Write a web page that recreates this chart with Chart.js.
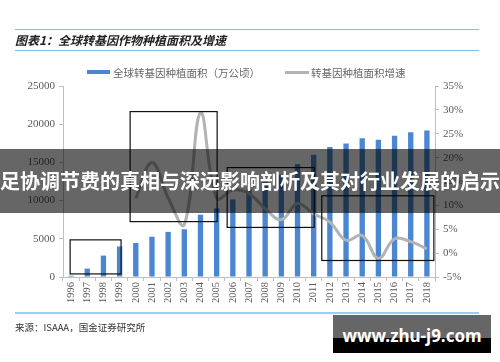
<!DOCTYPE html>
<html>
<head>
<meta charset="utf-8">
<script src="https://cdn.jsdelivr.net/npm/chart.js@4"></script>
<style>
  body { margin: 0; background: #fff; }
  #wrap { position: relative; width: 500px; height: 362px; overflow: hidden; font-family: "Noto Sans CJK SC", "Noto Sans", sans-serif; }
  #myChart { position: absolute; left: 0; top: 0; }
  .rule { position: absolute; left: 15px; width: 464px; background: #72c6e8; }
  #title { position: absolute; left: 15px; top: 31px; font-size: 12px; font-weight: bold; font-style: italic; color: #222; }
  #legend { position: absolute; top: 63px; left: 87px; font-size: 10.5px; color: #666; white-space: nowrap; }
  #legend span { display: inline-block; vertical-align: middle; }
  #source { position: absolute; left: 15px; top: 320px; font-size: 9.5px; color: #333; }
  #banner { position: absolute; left: 0; top: 149px; width: 500px; height: 64px; line-height: 64px; background: rgba(0,0,0,0.6); color: #fff; font-size: 20px; font-weight: bold; text-align: center; white-space: nowrap; overflow: hidden; }
  #mark { position: absolute; left: 333px; top: 315px; width: 158px; height: 38px; line-height: 42px; background: linear-gradient(to bottom, #666 0, #666 60%, #000 60%); color: #fff; font-family: "Noto Sans", sans-serif; font-size: 17px; font-weight: bold; text-align: center; }
</style>
</head>
<body>
<div id="wrap">
  <canvas id="myChart" width="500" height="362"></canvas>
  <div class="rule" style="top:29px;height:1px"></div>
  <div id="title">图表1：全球转基因作物种植面积及增速</div>
  <div class="rule" style="top:50px;height:1px"></div>
  <div id="legend">
    <span style="width:23px;height:4px;background:#4a87d0"></span><span style="margin-left:3px">全球转基因种植面积（万公顷）</span><span style="width:24px;height:3px;background:#b3b3b3;margin-left:25px"></span><span style="margin-left:2px">转基因种植面积增速</span>
  </div>
  <div class="rule" style="top:312px;height:2px;background:#93d3ee"></div>
  <div id="source">来源：ISAAA，国金证券研究所</div>
  <div id="banner">足协调节费的真相与深远影响剖析及其对行业发展的启示</div>
  <div id="mark">www.zhu-j9.com</div>
</div>
<script>
const years = ['1996', '1997', '1998', '1999', '2000', '2001', '2002', '2003', '2004', '2005', '2006', '2007',
    '2008', '2009', '2010', '2011', '2012', '2013', '2014', '2015', '2016', '2017', '2018']
const area = [170, 1100, 2800, 4000, 4450, 5270, 5900, 6250, 8150, 8980, 10170, 11430,
    12500, 13400, 14770, 16000, 17020, 17470, 18150, 17970, 18480, 18960, 19180]
const growth = [null, null, null, null, 11.5, 19, 11.6, 6, 29.4, 11.5, 13.2, 12.5,
    9.3, 7, 10.4, 8.2, 6.5, 2.7, 3.7, -1.1, 3, 2.4, 0.9]
const leftTicks = [0, 5000, 10000, 15000, 20000, 25000]
const rightTicks = [-5, 0, 5, 10, 15, 20, 25, 30, 35]

// black marker boxes drawn over the chart, in data units (category index / left axis value)
const boxes = [
    [-0.06, 3.09, 405, 4860],
    [3.65, 9.03, 7250, 21650],
    [9.65, 15.03, 6490, 14320],
    [15.5, 22.43, 2160, 10630]
]

const boxPlugin = {
    id: 'boxes',
    afterDatasetsDraw(chart) {
        const c = chart.ctx
        const xs = chart.scales.x
        const ys = chart.scales.y
        c.save()
        c.strokeStyle = '#111'
        c.lineWidth = 1.2
        boxes.forEach(b => {
            const x1 = xs.getPixelForValue(b[0])
            const x2 = xs.getPixelForValue(b[1])
            const y1 = ys.getPixelForValue(b[3])
            const y2 = ys.getPixelForValue(b[2])
            c.strokeRect(x1, y1, x2 - x1, y2 - y1)
        })
        c.restore()
    }
}

const tickFont = { family: '"Liberation Serif", "DejaVu Serif", serif', size: 11 }

let ctx = document.getElementById('myChart')

new Chart(ctx, {
    type: 'bar',
    data: {
        labels: years,
        datasets: [{
            label: '全球转基因种植面积（万公顷）',
            data: area,
            backgroundColor: '#4a87d0',
            barPercentage: 0.6,
            categoryPercentage: 0.55,
            yAxisID: 'y',
            order: 2
        },
        {
            type: 'line',
            label: '转基因种植面积增速',
            data: growth,
            borderColor: '#b3b3b3',
            borderWidth: 3,
            pointRadius: 0,
            tension: 0.4,
            yAxisID: 'y1',
            order: 1
        }]
    },
    plugins: [boxPlugin],
    options: {
        responsive: false,
        animation: false,
        layout: {
            padding: { top: 86, bottom: 55, left: 0, right: 0 }
        },
        scales: {
            x: {
                grid: { display: true, drawOnChartArea: false, offset: true, tickLength: 4, color: '#bfbfbf' },
                border: { color: '#bfbfbf' },
                ticks: { font: { family: tickFont.family, size: 10.5 }, color: '#595959', minRotation: 90, maxRotation: 90, padding: 1 },
                afterFit: s => { s.height = 30 }
            },
            y: {
                position: 'left',
                min: 0,
                max: 25000,
                grid: { display: true, drawOnChartArea: false, tickLength: 4, color: '#bfbfbf' },
                border: { color: '#bfbfbf' },
                afterBuildTicks: s => { s.ticks = leftTicks.map(v => ({ value: v })) },
                ticks: { font: tickFont, color: '#595959', padding: 4, callback: v => String(v) },
                afterFit: s => { s.width = 63 }
            },
            y1: {
                position: 'right',
                min: -5,
                max: 35,
                grid: { display: true, drawOnChartArea: false, tickLength: 4, color: '#bfbfbf' },
                border: { color: '#bfbfbf' },
                afterBuildTicks: s => { s.ticks = rightTicks.map(v => ({ value: v })) },
                ticks: { font: tickFont, color: '#595959', padding: 4, callback: v => v + '%' },
                afterFit: s => { s.width = 65 }
            }
        },
        plugins: {
            legend: { display: false },
            tooltip: { enabled: false }
        }
    }
});
</script>
</body>
</html>
